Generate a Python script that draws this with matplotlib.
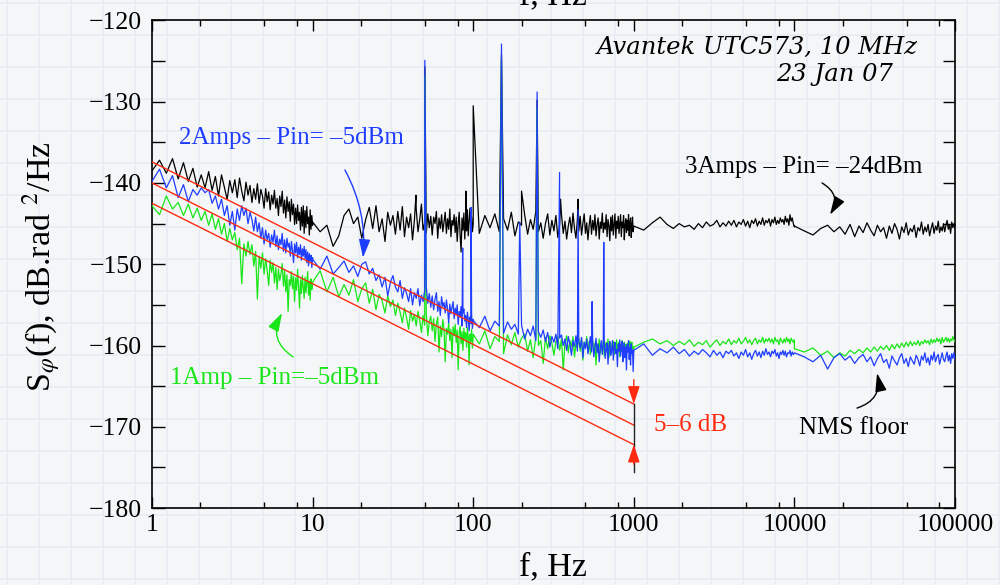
import numpy as np
import matplotlib
matplotlib.use("Agg")
import matplotlib.pyplot as plt
from matplotlib.ticker import LogLocator, NullFormatter, MultipleLocator

# ---------------- data (dB.rad^2/Hz) ----------------
# Each analyser span is a decade sampled on a linear frequency grid.
span_starts = [1, 10, 100, 1000, 10000]

black_1_10 = [-138.5, -137.2, -138.8, -137.0, -139.5, -137.5, -139.8, -138.2, -140.5, -139.0,
              -140.6, -138.6, -140.9, -139.2, -141.6, -139.0, -140.5, -142.0, -139.7, -141.2,
              -139.6, -141.8, -139.4, -141.0, -142.2, -139.9, -141.5, -140.3, -142.4, -140.7,
              -142.0, -140.1, -142.5, -140.8, -141.6, -143.1, -140.7, -142.3, -141.1, -143.3,
              -141.5, -142.6, -140.9, -143.1, -141.9, -144.0, -141.6, -142.9, -141.0, -143.7,
              -142.1, -144.3, -141.7, -143.5, -142.3, -144.7, -142.0, -143.9, -142.6, -145.1,
              -143.1, -145.0, -142.7, -144.6, -143.6, -145.8, -143.0, -145.3, -142.8, -146.2,
              -143.4, -145.5, -142.9, -145.0, -144.2, -146.4, -143.3, -145.7, -144.0, -145.2]
black_10_100 = [-144.8, -146.0, -145.2, -147.8, -146.5, -144.0, -143.2, -145.0, -144.2, -146.8,
                -144.5, -143.0, -145.6, -142.8, -146.0, -144.4, -147.2, -143.6, -145.2, -144.0,
                -146.3, -143.5, -145.8, -142.9, -146.6, -144.2, -145.5, -143.8, -147.0, -144.6,
                -143.2, -146.0, -144.5, -142.6, -145.8, -144.9, -146.2, -143.8, -145.5, -144.1,
                -146.4, -144.2, -145.0, -143.5, -146.8, -144.3, -145.6, -143.9, -146.0, -144.8,
                -143.6, -146.2, -144.4, -145.7, -143.2, -146.6, -144.6, -145.2, -143.9, -146.1,
                -144.2, -147.2, -145.0, -143.6, -146.4, -148.5, -144.3, -145.8, -143.7, -146.9,
                -144.5, -145.9, -143.3, -146.5, -144.8, -143.1, -145.4, -144.2, -146.0, -145.0]
black_100_1k = [-144.6, -146.2, -144.0, -145.5, -143.8, -146.0, -144.4, -145.8, -143.6, -146.5,
                -144.8, -145.2, -143.9, -146.3, -144.5, -145.7, -143.5, -146.0, -144.9, -146.8,
                -145.0, -143.8, -146.4, -144.6, -145.9, -144.0, -146.7, -145.1, -143.9, -146.2,
                -144.7, -146.9, -145.3, -144.2, -146.1, -143.7, -145.6, -146.8, -144.5, -145.9,
                -144.1, -146.4, -145.0, -143.8, -146.2, -144.9, -147.0, -145.2, -144.0, -146.3,
                -144.6, -145.8, -143.9, -146.5, -145.1, -144.3, -146.9, -144.8, -145.6, -143.7,
                -146.1, -144.9, -145.7, -143.9, -146.6, -144.5, -145.3, -147.1, -144.2, -145.9,
                -144.0, -146.4, -145.1, -143.8, -146.8, -144.7, -145.6, -144.1, -146.2, -145.0,
                -143.9, -146.6, -144.8, -145.5, -144.0, -147.0, -145.2, -144.4, -146.1, -144.6,
                -145.8, -143.9, -146.5, -145.0, -144.3, -146.7, -145.3, -144.2, -146.0, -145.4]
black_1k_10k = [-145.3, -145.8, -144.9, -144.2, -145.1, -145.6, -145.0, -145.4, -145.2, -145.7,
                -145.0, -145.5, -144.8, -145.3, -145.1, -144.6, -145.4, -144.9, -145.3, -144.7,
                -145.2, -144.6, -145.4, -144.8, -145.1, -144.5, -145.3, -144.7, -145.5, -144.6,
                -145.0, -144.4, -145.3, -144.7, -145.1, -144.3, -145.2, -144.6, -144.9, -144.4,
                -145.3, -144.5, -144.9, -144.2, -145.1, -144.6, -145.0, -144.3, -144.8, -144.5,
                -145.1, -144.1, -144.8, -144.4, -145.2, -143.9, -144.7, -144.3, -145.0, -145.4]
black_10k_100k = [-145.3, -145.9, -146.4, -145.6, -145.2, -146.0, -145.4, -146.3, -145.1, -146.6,
                  -145.3, -146.1, -144.9, -145.8, -146.5, -145.2, -146.0, -145.5, -146.8, -145.3,
                  -146.2, -145.0, -145.7, -146.9, -145.4, -146.1, -144.9, -146.4, -145.6, -146.0,
                  -145.2, -146.7, -145.5, -145.9, -144.8, -146.3, -145.4, -146.0, -145.1, -146.5,
                  -145.6, -144.9, -146.2, -145.3, -145.8, -144.7, -146.1, -145.4, -145.9, -145.0,
                  -146.0, -145.2, -144.6, -145.7, -145.1, -146.2, -144.8, -145.5, -145.0, -145.6]
black_spike_f = [44, 50, 90, 100, 150, 200, 250, 350, 450]
black_spike_top = [-141.5, -125.7, -141.0, -130.5, -124.2, -141.0, -129.8, -142.0, -142.0]

blue_1_10 = [-139.8, -138.3, -140.6, -139.1, -141.8, -140.2, -142.3, -140.8, -141.5, -140.6,
             -141.2, -140.8, -142.5, -141.6, -143.2, -142.0, -144.0, -142.8, -145.2, -143.5,
             -145.8, -143.2, -144.6, -142.8, -144.0, -143.1, -145.0, -143.6, -144.5, -145.9,
             -144.2, -146.0, -144.9, -146.8, -145.5, -147.5, -145.8, -147.0, -146.2, -147.9,
             -146.4, -147.3, -145.8, -147.8, -146.5, -148.2, -146.9, -147.6, -146.2, -148.4,
             -147.0, -148.6, -146.8, -147.9, -147.4, -149.0, -147.2, -148.3, -149.8, -147.5,
             -148.6, -147.3, -149.2, -147.9, -148.8, -147.6, -149.5, -148.1, -149.0, -147.8,
             -149.3, -148.2, -149.8, -148.5, -150.2, -148.7, -149.6, -148.9, -150.4, -149.2]
blue_10_100 = [-149.4, -150.6, -149.0, -151.2, -150.4, -149.6, -151.0, -150.2, -151.5, -150.0,
               -149.7, -151.2, -150.5, -152.0, -151.3, -152.8, -151.6, -153.9, -152.2, -151.4,
               -152.8, -153.4, -152.0, -154.2, -152.9, -153.6, -154.6, -153.0, -155.0, -153.5,
               -154.2, -153.0, -155.1, -153.8, -154.6, -153.2, -152.7, -154.8, -153.6, -155.3,
               -153.9, -155.6, -154.3, -153.5, -155.8, -154.6, -156.3, -154.0, -155.2, -154.7,
               -156.0, -154.4, -155.5, -157.2, -154.9, -156.1, -155.3, -154.6, -156.7, -155.4,
               -156.2, -155.0, -157.4, -155.8, -156.5, -155.2, -157.6, -156.0, -155.5, -157.0,
               -156.3, -157.8, -155.9, -156.8, -158.2, -156.5, -157.3, -156.1, -157.9, -156.8]
blue_100_1k = [-156.9, -157.8, -156.4, -158.2, -157.0, -157.6, -158.5, -157.1, -158.0, -157.4,
               -158.6, -157.5, -159.2, -158.0, -158.8, -157.6, -159.4, -158.3, -159.0, -158.1,
               -159.5, -158.4, -160.2, -158.9, -159.6, -158.6, -160.4, -159.1, -158.7, -160.0,
               -159.2, -160.6, -158.9, -159.8, -161.2, -159.4, -160.1, -158.8, -160.7, -159.5,
               -160.3, -159.0, -161.5, -159.6, -160.4, -159.2, -161.0, -160.0, -158.9, -160.8,
               -159.6, -161.4, -160.2, -159.1, -160.9, -159.8, -162.0, -160.3, -159.4, -161.1,
               -160.0, -159.3, -161.6, -160.4, -159.7, -162.3, -160.1, -159.5, -161.2, -160.6,
               -159.4, -161.8, -160.2, -159.6, -161.0, -160.5, -162.6, -159.8, -160.7, -159.3,
               -161.3, -160.0, -159.5, -162.0, -160.4, -159.7, -161.5, -160.2, -163.0, -159.9,
               -160.8, -159.4, -161.7, -160.3, -162.4, -159.8, -161.0, -160.5, -163.2, -160.6]
blue_1k_10k = [-160.6, -159.8, -161.2, -160.4, -160.9, -160.2, -161.0, -160.5, -161.3, -160.7,
               -161.1, -160.5, -160.9, -161.4, -160.6, -161.2, -160.8, -161.5, -160.7, -161.0,
               -160.6, -161.3, -160.9, -161.6, -160.8, -161.2, -160.5, -161.4, -160.9, -161.7,
               -161.0, -160.6, -161.3, -160.8, -161.5, -160.7, -161.2, -160.4, -161.1, -160.8,
               -161.4, -160.7, -161.0, -160.5, -161.3, -160.9, -161.6, -160.8, -161.1, -160.6,
               -161.2, -160.7, -161.4, -160.9, -161.0, -160.6, -161.3, -160.8, -161.1, -160.9]
blue_10k_100k = [-160.9, -161.4, -162.0, -161.2, -162.9, -161.5, -161.0, -161.8, -161.3, -162.2,
                 -161.5, -161.1, -162.0, -161.4, -162.5, -161.6, -161.0, -162.1, -161.7, -162.8,
                 -161.3, -161.9, -162.4, -161.5, -161.0, -162.2, -161.6, -162.6, -161.4, -161.9,
                 -162.3, -161.2, -161.7, -162.5, -161.3, -161.8, -160.9, -162.1, -161.5, -162.4,
                 -161.2, -161.8, -160.8, -162.0, -161.4, -161.1, -162.3, -161.6, -160.9, -161.7,
                 -162.0, -161.3, -160.8, -161.9, -161.2, -162.2, -161.0, -161.6, -160.9, -161.8]
blue_spike_f = [50, 86, 97, 150, 195, 250, 345, 450, 550, 650]
blue_spike_top = [-124.9, -148.0, -143.0, -122.9, -144.8, -128.8, -138.7, -143.3, -154.6, -147.3]

green_1_10 = [-142.8, -143.9, -141.6, -143.2, -142.4, -144.0, -142.6, -144.3, -143.1, -144.6,
              -143.5, -145.2, -143.8, -145.7, -144.4, -146.3, -145.0, -147.2, -145.6, -147.0,
              -146.1, -148.2, -146.8, -152.4, -147.5, -149.0, -147.2, -148.8, -147.6, -150.2,
              -148.4, -154.3, -149.0, -150.5, -148.6, -151.2, -149.3, -150.8, -152.6, -149.5,
              -151.0, -149.8, -152.3, -150.4, -153.1, -150.6, -152.0, -151.2, -149.9, -152.7,
              -150.8, -153.4, -151.3, -155.8, -151.9, -152.6, -150.9, -153.0, -151.5, -154.6,
              -151.7, -153.2, -150.6, -152.8, -155.4, -151.9, -153.6, -151.4, -152.9, -154.2,
              -151.6, -153.5, -152.2, -150.9, -153.8, -152.1, -154.4, -151.8, -153.1, -152.5]
green_10_100 = [-152.2, -150.8, -153.4, -151.6, -154.0, -152.5, -153.8, -151.9, -154.6, -153.0,
                -152.3, -154.8, -153.1, -155.6, -153.7, -154.5, -156.0, -153.9, -155.2, -154.4,
                -156.3, -154.8, -155.9, -157.2, -155.4, -156.6, -158.0, -155.7, -157.0, -156.2,
                -157.6, -155.8, -156.9, -158.4, -156.3, -157.5, -156.0, -158.8, -157.1, -156.4,
                -158.2, -156.7, -159.5, -157.3, -156.5, -160.8, -157.6, -158.9, -156.8, -158.0,
                -162.0, -157.9, -158.6, -157.2, -159.4, -158.0, -161.5, -157.7, -158.8, -157.4,
                -159.6, -158.1, -163.0, -158.5, -157.6, -159.8, -158.3, -160.6, -157.9, -159.2,
                -158.4, -160.2, -157.8, -159.0, -162.4, -158.6, -159.5, -158.0, -160.3, -158.9]
green_100_1k = [-158.6, -159.8, -158.2, -160.4, -158.9, -159.5, -161.0, -158.7, -159.9, -158.4,
                -160.2, -159.1, -158.6, -160.7, -159.3, -161.5, -158.9, -160.0, -159.4, -162.2,
                -159.0, -160.4, -158.8, -159.7, -161.2, -159.5, -158.9, -160.6, -159.2, -163.0,
                -159.6, -158.8, -160.9, -159.4, -160.1, -158.9, -161.4, -159.8, -160.3, -159.1,
                -160.7, -159.2, -161.8, -159.6, -160.2, -158.9, -160.8, -159.5, -161.1, -160.0,
                -159.3, -160.9, -159.7, -162.4, -159.8, -160.5, -159.2, -161.0, -159.9, -160.6,
                -159.4, -161.3, -160.1, -159.6, -160.8, -159.2, -161.5, -160.3, -159.7, -160.9,
                -160.2, -159.5, -161.1, -159.8, -160.6, -159.3, -160.9, -160.4, -159.6, -161.4,
                -159.9, -160.7, -159.4, -161.0, -160.2, -159.6, -160.8, -159.9, -160.5, -159.7,
                -160.6, -159.8, -160.3, -159.5, -161.2, -160.0, -159.6, -160.7, -160.1, -160.4]
green_1k_10k = [-160.2, -159.6, -159.2, -159.8, -159.4, -160.0, -159.5, -159.9, -159.3, -160.1,
                -159.6, -159.9, -159.4, -160.2, -159.7, -159.3, -160.0, -159.5, -159.8, -159.2,
                -159.9, -159.4, -159.7, -159.1, -159.8, -159.5, -159.0, -159.7, -159.3, -159.9,
                -159.4, -159.1, -159.8, -159.3, -159.6, -159.0, -159.7, -159.2, -159.5, -159.1,
                -159.6, -159.2, -159.8, -159.0, -159.5, -159.3, -159.9, -159.1, -159.4, -159.7,
                -159.2, -159.6, -159.0, -159.5, -159.2, -159.8, -159.1, -159.4, -159.6, -159.3]
green_10k_100k = [-160.4, -160.8, -160.3, -161.2, -160.7, -161.5, -160.9, -161.3, -160.6, -161.0,
                  -160.5, -160.9, -160.3, -160.8, -160.2, -160.7, -160.1, -160.5, -160.0, -160.6,
                  -159.9, -160.4, -159.8, -160.3, -159.7, -160.2, -159.6, -160.1, -159.5, -160.0,
                  -159.6, -159.9, -159.4, -160.0, -159.5, -159.8, -159.3, -159.7, -159.4, -159.9,
                  -159.2, -159.7, -159.3, -159.6, -159.1, -159.5, -159.2, -159.8, -159.0, -159.6,
                  -159.3, -159.0, -159.5, -159.1, -159.6, -159.2, -159.4, -158.9, -159.3, -159.5]
green_spike_f = [50, 150, 250]
green_spike_top = [-126.8, -124.8, -130.8]

# 1/f reference lines (red) and the 5-6 dB marker
ref_f = [1, 1000]
ref_upper = [-137.4, -167.2]
ref_middle = [-140.0, -169.8]
ref_lower = [-142.5, -172.2]

# ---------------- helpers ----------------
def build(segments, spike_f, spike_top):
    f_all, v_all = [], []
    for f0, vals in zip(span_starts, segments):
        f_all.extend(np.linspace(f0, 10 * f0, len(vals)))
        v_all.extend(vals)
    pts = sorted(list(zip(f_all, v_all)) + list(zip(spike_f, spike_top)),
                 key=lambda p: p[0])
    return np.array([p[0] for p in pts]), np.array([p[1] for p in pts])

bf, bv = build([black_1_10, black_10_100, black_100_1k, black_1k_10k, black_10k_100k],
               black_spike_f, black_spike_top)
uf, uv = build([blue_1_10, blue_10_100, blue_100_1k, blue_1k_10k, blue_10k_100k],
               blue_spike_f, blue_spike_top)
gf, gv = build([green_1_10, green_10_100, green_100_1k, green_1k_10k, green_10k_100k],
               green_spike_f, green_spike_top)

# ---------------- style ----------------
plt.rcParams['font.family'] = 'serif'
plt.rcParams['font.serif'] = ['Liberation Serif', 'DejaVu Serif']
plt.rcParams['mathtext.fontset'] = 'stix'

BG = '#f5f6f7'
BLUE = '#1f3dff'
GREEN = '#19e619'
RED = '#ff2a10'

fig = plt.figure(figsize=(10, 5.85), dpi=100, facecolor=BG)

# graph-paper background
bg = fig.add_axes([0, 0, 1, 1], zorder=-10)
bg.set_xlim(0, 1000)
bg.set_ylim(585, 0)
bg.set_facecolor(BG)
for xx in range(7, 1000, 32):
    bg.axvline(xx, color='#e6edf4', lw=1.2)
for yy in range(3, 585, 32):
    bg.axhline(yy, color='#e6edf4', lw=1.2)
bg.set_xticks([])
bg.set_yticks([])
for s in bg.spines.values():
    s.set_visible(False)

ax = fig.add_axes([0.152, 0.1316, 0.803, 0.8334])
ax.set_facecolor('none')
ax.set_xscale('log')
ax.set_xlim(1, 1e5)
ax.set_ylim(-180, -120)

ax.plot(bf, bv, color='black', lw=0.9, zorder=3)
ax.plot(gf, gv, color=GREEN, lw=0.9, zorder=4)
ax.plot(uf, uv, color=BLUE, lw=0.9, zorder=5)

for yy in (ref_upper, ref_middle, ref_lower):
    ax.plot(ref_f, yy, color=RED, lw=1.0, zorder=6)

# 5-6 dB marker at 1000 Hz
ax.plot([1000, 1000], [-167.2, -175.6], color='#222222', lw=1.0, zorder=6)
ax.annotate('', xy=(1000, -167.2), xytext=(1000, -164.2),
            arrowprops=dict(arrowstyle='-|>,head_length=0.9,head_width=0.3',
                            color=RED, lw=1.0, mutation_scale=12,
                            shrinkA=0, shrinkB=0), zorder=7)
ax.annotate('', xy=(1000, -172.2), xytext=(1000, -174.6),
            arrowprops=dict(arrowstyle='-|>,head_length=0.9,head_width=0.3',
                            color=RED, lw=1.0, mutation_scale=12,
                            shrinkA=0, shrinkB=0), zorder=7)
ax.text(2250, -169.8, '5–6 dB', color=RED, fontsize=18, ha='center', va='center')

# labels and curved arrows
ax.text(7.34, -134.5, '2Amps – Pin= –5dBm', color=BLUE, fontsize=18,
        ha='center', va='center')
ax.annotate('', xy=(20.6, -149.2), xytext=(15.9, -138.4),
            arrowprops=dict(arrowstyle='-|>,head_length=0.8,head_width=0.25',
                            color=BLUE, lw=1.0, mutation_scale=14,
                            connectionstyle='arc3,rad=-0.15', shrinkA=0, shrinkB=0))

ax.text(5.75, -164.0, '1Amp – Pin=–5dBm', color=GREEN, fontsize=18,
        ha='center', va='center')
ax.annotate('', xy=(6.45, -156.0), xytext=(7.55, -161.4),
            arrowprops=dict(arrowstyle='-|>,head_length=0.8,head_width=0.25',
                            color=GREEN, lw=1.0, mutation_scale=14,
                            connectionstyle='arc3,rad=-0.45', shrinkA=0, shrinkB=0))

ax.text(11480, -138.0, '3Amps – Pin= –24dBm', color='black', fontsize=18,
        ha='center', va='center')
ax.annotate('', xy=(16670, -143.9), xytext=(14860, -140.0),
            arrowprops=dict(arrowstyle='-|>,head_length=0.8,head_width=0.25',
                            color='black', lw=1.0, mutation_scale=14,
                            connectionstyle='arc3,rad=-0.5', shrinkA=0, shrinkB=0))

ax.text(23500, -170.2, 'NMS floor', color='black', fontsize=18,
        ha='center', va='center')
ax.annotate('', xy=(32700, -163.4), xytext=(24550, -167.7),
            arrowprops=dict(arrowstyle='-|>,head_length=0.8,head_width=0.25',
                            color='black', lw=1.0, mutation_scale=14,
                            connectionstyle='arc3,rad=0.45', shrinkA=0, shrinkB=0))

ax.text(58800, -123.3, 'Avantek UTC573, 10 MHz', fontsize=17.5, style='italic',
        family='DejaVu Serif', ha='right', va='center')
ax.text(41100, -126.7, '23 Jan 07', fontsize=17.5, style='italic',
        family='DejaVu Serif', ha='right', va='center')

# axes, ticks
ax.set_xticks([1, 10, 100, 1000, 1e4, 1e5])
ax.set_xticklabels(['1', '10', '100', '1000', '10000', '100000'])
ax.xaxis.set_minor_locator(LogLocator(base=10, subs=(2, 5, 8), numticks=20))
ax.xaxis.set_minor_formatter(NullFormatter())
ax.set_yticks(range(-180, -119, 10))
ax.yaxis.set_minor_locator(MultipleLocator(5))
ax.tick_params(which='both', direction='in', top=True, right=True,
               labelsize=18.5, width=1.0, color='black')
ax.tick_params(axis='x', which='major', length=8, pad=4)
ax.tick_params(axis='x', which='minor', length=4)
ax.tick_params(axis='y', which='both', length=9, pad=7)
for s in ax.spines.values():
    s.set_linewidth(1.2)

fig.text(0.553, 1 - 567 / 585, 'f, Hz', fontsize=24.5, ha='center', va='center')
fig.text(0.553, 1 - 4 / 585, 'f, Hz', fontsize=24.5, ha='center', va='baseline')
fig.text(0.041, 1 - 267 / 585, r'S$_{\varphi}$(f), dB.rad $^{2}$/Hz', fontsize=24.5,
         rotation=90, ha='center', va='center')

fig.savefig('out.png', dpi=100, facecolor=BG)
